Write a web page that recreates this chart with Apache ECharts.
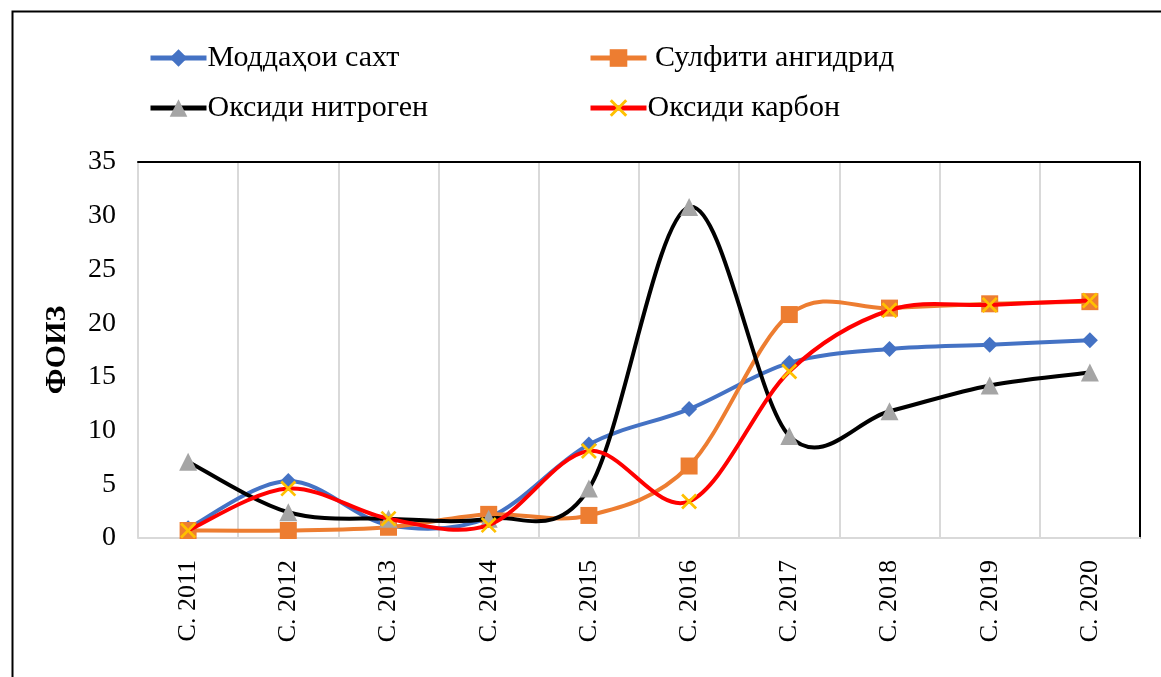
<!DOCTYPE html>
<html>
<head>
<meta charset="utf-8">
<script src="https://cdn.jsdelivr.net/npm/echarts@6/dist/echarts.min.js"></script>
<style>
  html, body { margin: 0; padding: 0; background: #fff; }
  #chart { width: 1161px; height: 677px; }
</style>
</head>
<body>
<div id="chart"></div>
<script>
// категорияҳо (солҳо)
var years = ["С. 2011", "С. 2012", "С. 2013", "С. 2014", "С. 2015", "С. 2016", "С. 2017", "С. 2018", "С. 2019", "С. 2020"];
var yTicks = [0, 5, 10, 15, 20, 25, 30, 35];

// қиматҳо, фоиз
var moddahoiSakht = [0.9, 5.3, 1.2, 1.9, 8.7, 12.0, 16.3, 17.6, 18.0, 18.4];
var sulfitiAngidrid = [0.7, 0.7, 1.0, 2.2, 2.1, 6.7, 20.8, 21.4, 21.8, 22.0];
var oksidiNitrogen = [7.1, 2.4, 1.8, 1.8, 4.6, 30.8, 9.5, 11.8, 14.2, 15.4];
var oksidiKarbon = [0.7, 4.6, 1.8, 1.2, 8.1, 3.4, 15.5, 21.2, 21.7, 22.1];

var font = "'Liberation Serif', 'Times New Roman', serif";
var xMark = "path://M0,1.2L1.2,0L10,8.8L8.8,10Z M8.8,0L10,1.2L1.2,10L0,8.8Z";

var myChart = echarts.init(document.getElementById("chart"));

// хатти ҳамвор мисли Excel (Catmull-Rom), ҳар қисм аз нуқтаи i то i+1
function smoothSeg(values, color, width) {
    return function (params, api) {
        var i = params.dataIndex;
        var n = values.length;
        if (i >= n - 1) return null;
        var p = function (k) {
            k = Math.max(0, Math.min(n - 1, k));
            return api.coord([k, values[k]]);
        };
        var p0 = p(i - 1), p1 = p(i), p2 = p(i + 1), p3 = p(i + 2);
        return {
            type: "bezierCurve",
            shape: {
                x1: p1[0], y1: p1[1],
                x2: p2[0], y2: p2[1],
                cpx1: p1[0] + (p2[0] - p0[0]) / 6, cpy1: p1[1] + (p2[1] - p0[1]) / 6,
                cpx2: p2[0] - (p3[0] - p1[0]) / 6, cpy2: p2[1] - (p3[1] - p1[1]) / 6
            },
            style: { stroke: color, lineWidth: width, fill: null, lineCap: "round" }
        };
    };
}

function pairs(values) {
    return values.map(function (v, i) { return [i, v]; });
}

var legendText = { fontFamily: font, fontSize: 30, color: "#000", padding: [0, 0, 0, -4] };

var lineSeries = [
    { name: "Моддаҳои сахт", data: moddahoiSakht, color: "#4472C4", mark: "#4472C4", symbol: "diamond", size: 16 },
    { name: "Сулфити ангидрид", data: sulfitiAngidrid, color: "#ED7D31", mark: "#ED7D31", symbol: "rect", size: 17 },
    { name: "Оксиди нитроген", data: oksidiNitrogen, color: "#000000", mark: "#A5A5A5", symbol: "triangle", size: 18 },
    { name: "Оксиди карбон", data: oksidiKarbon, color: "#FF0000", mark: "#FFC000", symbol: xMark, size: 16 }
];

var series = [];
lineSeries.forEach(function (s, k) {
    series.push({
        type: "custom",
        name: s.name + "_line",
        coordinateSystem: "cartesian2d",
        data: pairs(s.data),
        encode: { x: 0, y: 1 },
        renderItem: smoothSeg(s.data, s.color, 4),
        z: 2 + k * 2,
        silent: true
    });
    series.push({
        name: s.name,
        type: "line",
        data: s.data,
        symbol: s.symbol,
        symbolSize: s.size,
        z: 3 + k * 2,
        lineStyle: { color: s.color, width: 4, opacity: 0 },
        itemStyle: { color: s.mark }
    });
});

var option = {
    animation: false,
    backgroundColor: "#fff",
    textStyle: { fontFamily: font },
    graphic: [
        {
            type: "rect",
            left: 10, top: 9,
            shape: { width: 1170, height: 690 },
            style: { fill: "none", stroke: "#000", lineWidth: 2 },
            silent: true
        }
    ],
    legend: [
        {
            data: ["Моддаҳои сахт", "Оксиди нитроген"],
            orient: "vertical",
            left: 143, top: 38,
            itemWidth: 56, itemHeight: 22, itemGap: 20,
            lineStyle: { width: 5, opacity: 1 },
            textStyle: legendText
        },
        {
            data: ["Сулфити ангидрид", "Оксиди карбон"],
            orient: "vertical",
            left: 583, top: 38,
            itemWidth: 56, itemHeight: 22, itemGap: 20,
            lineStyle: { width: 5, opacity: 1 },
            formatter: function (name) { return name === "Сулфити ангидрид" ? " " + name : name; },
            textStyle: legendText
        }
    ],
    grid: { left: 138, right: 21, top: 162, bottom: 139, containLabel: false },
    xAxis: [
        {
            type: "category",
            data: years,
            boundaryGap: true,
            axisLine: { onZero: false, lineStyle: { color: "#d9d9d9", width: 2 } },
            axisTick: { show: false },
            splitLine: { show: true, lineStyle: { color: "#d9d9d9", width: 2 } },
            axisLabel: {
                rotate: 90, fontSize: 26, color: "#000", fontFamily: font, margin: 22,
                interval: 0
            }
        },
        {
            type: "category",
            position: "top",
            data: years,
            axisLine: { onZero: false, lineStyle: { color: "#000", width: 2 } },
            axisTick: { show: false },
            axisLabel: { show: false }
        }
    ],
    yAxis: [
        {
            type: "value",
            min: yTicks[0], max: yTicks[yTicks.length - 1], interval: 5,
            name: "ФОИЗ",
            nameLocation: "middle",
            nameGap: 66,
            nameRotate: 90,
            nameTextStyle: { fontFamily: font, fontSize: 30, fontWeight: "bold", color: "#000" },
            axisLine: { show: false },
            axisTick: { show: false },
            splitLine: { show: false },
            axisLabel: { fontSize: 28, color: "#000", fontFamily: font, margin: 22 }
        },
        {
            type: "value",
            position: "right",
            min: 0, max: 35,
            axisLine: { show: true, onZero: false, lineStyle: { color: "#000", width: 2 } },
            axisTick: { show: false },
            axisLabel: { show: false },
            splitLine: { show: false }
        }
    ],
    series: series
};

myChart.setOption(option);
</script>
</body>
</html>
